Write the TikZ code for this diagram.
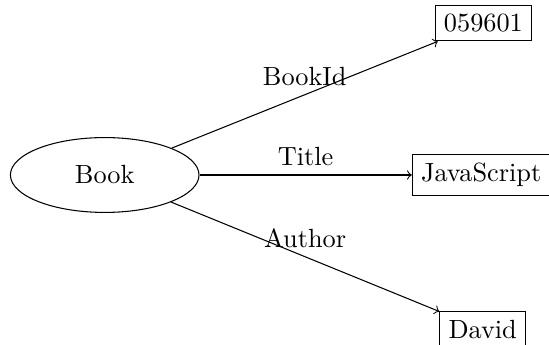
\documentclass[tikz,border=0pt]{standalone}
\usepackage{tikz}
\usetikzlibrary{shapes,arrows,positioning}

\begin{document}
\begin{tikzpicture}[value/.style={rectangle,draw},
    attr/.style={->},
    lbl/.style={above,midway}]
  \useasboundingbox (-1.399,-2.271) rectangle (5.936,2.338);
  % Nodes
  \node[ellipse,draw,minimum width=2.52cm,minimum height=1cm] (book) at (0,0) {Book};
  \node[value] (bookid) at (5.06,2.03) {059601};
  \node[value] (title) at (5.03,0) {JavaScript};
  \node[value] (author) at (5.05,-2.06) {David};

  % Arrows (attributes)
  \draw[attr] (book) -- (bookid) node[lbl] {BookId};
  \draw[attr] (book) -- (title) node[lbl] {Title};
  \draw[attr] (book) -- (author) node[lbl] {Author};
\end{tikzpicture}
\end{document}
